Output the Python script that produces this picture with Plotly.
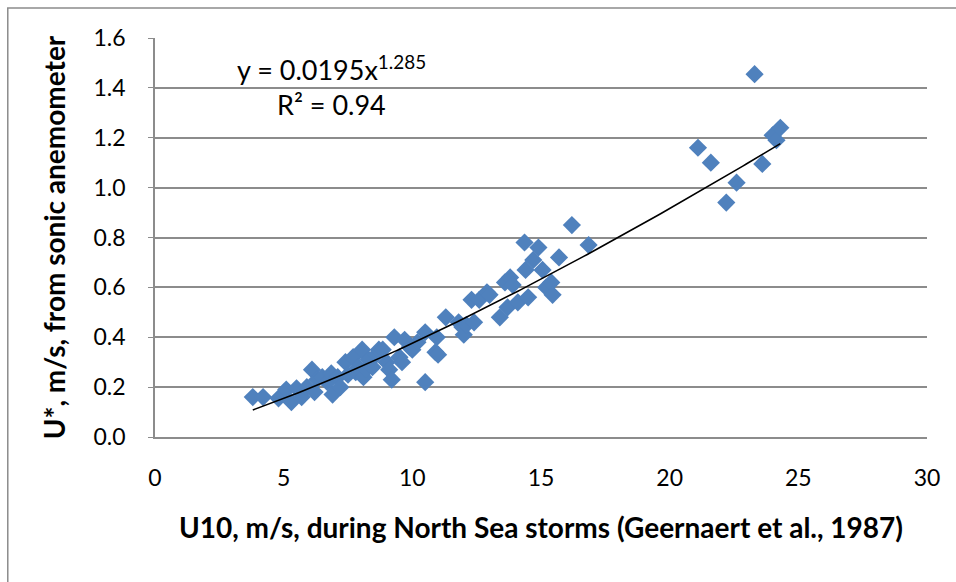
import numpy as np
import plotly.graph_objects as go

# Data
u10 = [3.8, 4.2, 4.8, 5.1, 5.3, 5.5, 5.7, 5.9, 6.1, 6.2, 6.3, 6.5, 6.7, 6.85, 6.9,
       7.1, 7.2, 7.4, 7.5, 7.7, 7.8, 7.9, 8.05, 8.1, 8.2, 8.3, 8.45, 8.6, 8.7, 8.85,
       9.0, 9.1, 9.2, 9.3, 9.5, 9.6, 9.7, 9.9, 10.0, 10.2, 10.5, 10.5, 10.9, 10.95,
       11.0, 11.3, 11.8, 11.95, 12.0, 12.1, 12.3, 12.4, 12.6, 12.9, 13.0, 13.4, 13.6,
       13.7, 13.8, 13.9, 14.1, 14.36, 14.4, 14.5, 14.7, 14.9, 15.06, 15.2, 15.4, 15.45,
       15.7, 16.2, 16.85, 21.1, 21.6, 22.2, 22.6, 23.3, 23.6, 24.0, 24.15, 24.3]
ustar = [0.16, 0.16, 0.155, 0.19, 0.14, 0.195, 0.16, 0.20, 0.27, 0.18, 0.23, 0.24, 0.22, 0.255, 0.17,
         0.24, 0.20, 0.30, 0.25, 0.32, 0.26, 0.28, 0.35, 0.24, 0.27, 0.31, 0.28, 0.33, 0.35, 0.35,
         0.30, 0.27, 0.23, 0.40, 0.32, 0.30, 0.39, 0.36, 0.35, 0.38, 0.42, 0.22, 0.34, 0.40,
         0.33, 0.48, 0.46, 0.44, 0.41, 0.45, 0.55, 0.46, 0.55, 0.58, 0.57, 0.48, 0.62,
         0.52, 0.64, 0.61, 0.54, 0.78, 0.67, 0.56, 0.71, 0.76, 0.67, 0.60, 0.62, 0.57,
         0.72, 0.85, 0.77, 1.16, 1.10, 0.94, 1.02, 1.455, 1.095, 1.21, 1.19, 1.24]

# Power-law fit parameters shown on the chart
fit_a = 0.0195
fit_b = 1.285

x_ticks = [0, 5, 10, 15, 20, 25, 30]
y_ticks = [0.0, 0.2, 0.4, 0.6, 0.8, 1.0, 1.2, 1.4, 1.6]

FONT = "Lato, Open Sans, sans-serif"
GRID = "#8c8c8c"

fx = np.linspace(min(u10), max(u10), 200)
fy = fit_a * fx ** fit_b

fig = go.Figure()
fig.add_trace(go.Scatter(
    x=u10, y=ustar, mode="markers",
    marker=dict(symbol="diamond", size=14, color="#4F81BD", line=dict(width=0)),
    showlegend=False, hoverinfo="x+y"))
fig.add_trace(go.Scatter(
    x=fx, y=fy, mode="lines", line=dict(color="black", width=1.6),
    showlegend=False, hoverinfo="skip"))

fig.update_layout(
    width=956, height=582,
    margin=dict(l=155, r=29, t=38, b=145),
    paper_bgcolor="white", plot_bgcolor="white",
    font=dict(family=FONT, size=23, color="black"),
    xaxis=dict(range=[0, 30], tickvals=x_ticks, ticktext=[str(v) for v in x_ticks],
               showgrid=False, zeroline=False, showline=True, linecolor=GRID, linewidth=1.5,
               ticks="", ticklabelstandoff=20, tickfont=dict(size=23),
               title=dict(text="<b>U10, m/s, during North Sea storms (Geernaert et al., 1987)</b>",
                          font=dict(size=28), standoff=28)),
    yaxis=dict(range=[0, 1.6], tickvals=y_ticks, ticktext=[f"{v:.1f}" for v in y_ticks],
               showgrid=True, gridcolor=GRID, gridwidth=1.5, zeroline=False,
               showline=True, linecolor=GRID, linewidth=1.5,
               ticks="outside", ticklen=5, tickcolor=GRID, ticklabelstandoff=18,
               tickfont=dict(size=23),
               title=dict(text="<b>U*, m/s, from sonic anemometer</b>",
                          font=dict(size=28), standoff=20)),
    annotations=[
        dict(x=0.228, y=0.925, xref="paper", yref="paper", showarrow=False,
             xanchor="center", yanchor="middle",
             text="y = 0.0195x<sup>1.285</sup>", font=dict(size=27, family=FONT)),
        dict(x=0.228, y=0.833, xref="paper", yref="paper", showarrow=False,
             xanchor="center", yanchor="middle",
             text="R² = 0.94", font=dict(size=27, family=FONT)),
    ],
    shapes=[dict(type="rect", xref="paper", yref="paper",
                 x0=-0.1907, x1=1.2, y0=-0.6, y1=1.075,
                 line=dict(color=GRID, width=1.5), layer="below")],
)

fig.write_html("out.html")
